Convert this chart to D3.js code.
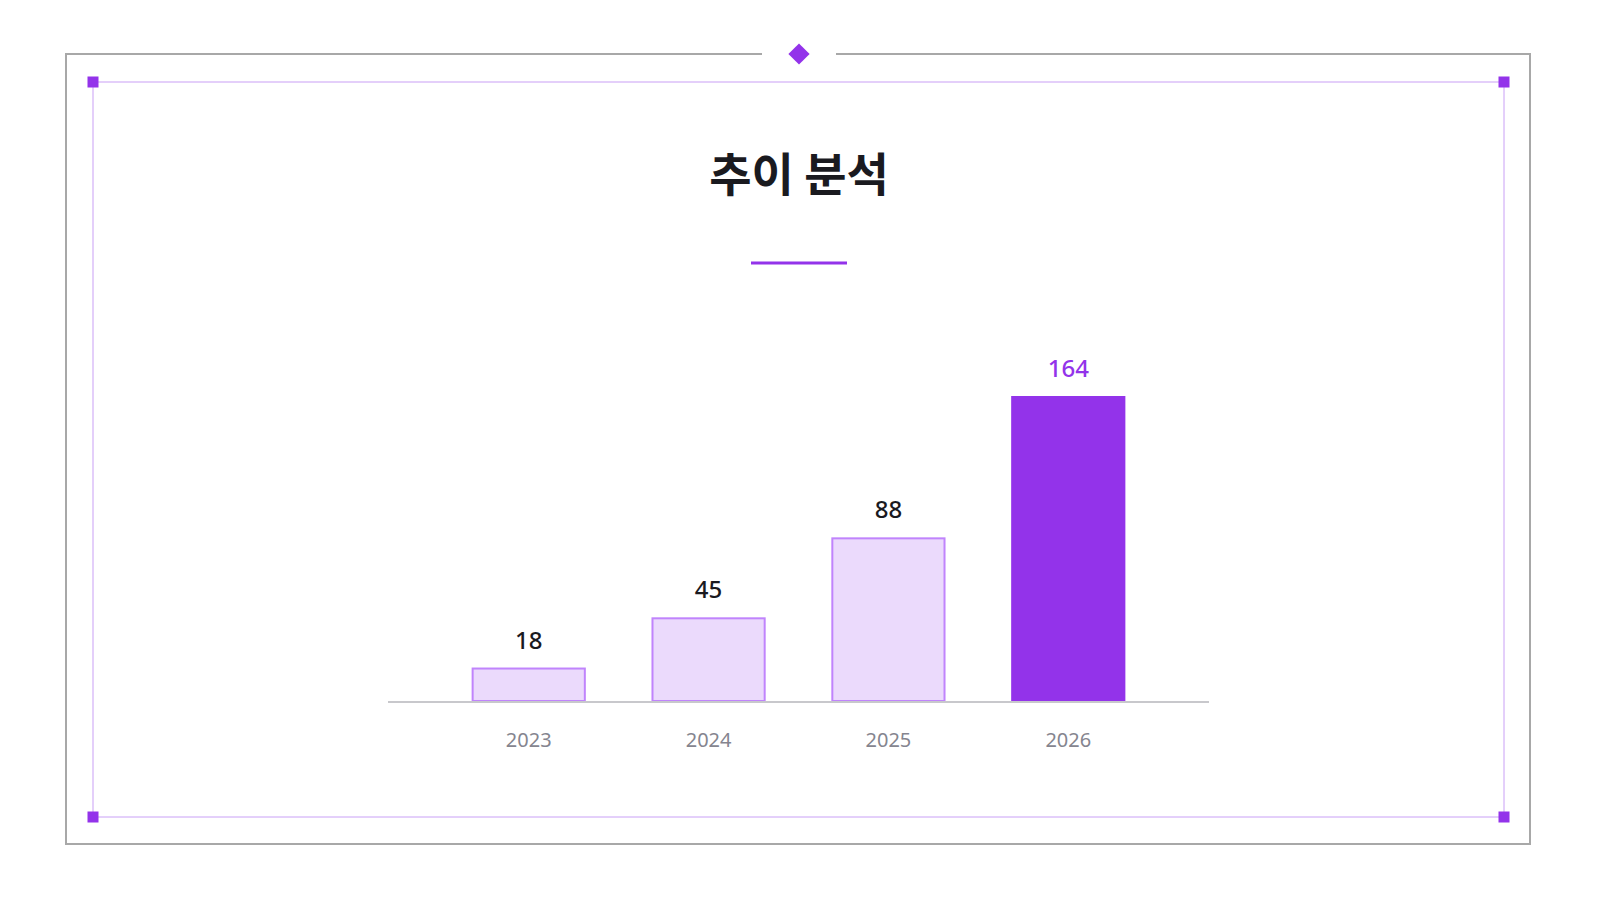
<!DOCTYPE html>
<html><head><meta charset="utf-8">
<script src="https://cdn.jsdelivr.net/npm/d3@7"></script>
<style>
html,body{margin:0;padding:0;background:#fff;}
svg{display:block;}
</style></head>
<body>
<svg id="chart" width="1598" height="900"></svg>
<script>
const title = "추이 분석";
const categories = ["2023", "2024", "2025", "2026"];
const values = [18, 45, 88, 164];
const highlight = ["2026"];

const svg = d3.select("#chart");
const purple = "#9333ea";
const fontFam = "'Noto Sans', 'Open Sans', 'Noto Sans CJK KR', sans-serif";

// outer frame
svg.append("rect").attr("x", 66).attr("y", 54).attr("width", 1464).attr("height", 790)
  .attr("fill", "none").attr("stroke", "#a8a8a8").attr("stroke-width", 2);
// gap at top for diamond
svg.append("rect").attr("x", 762).attr("y", 50).attr("width", 74).attr("height", 8).attr("fill", "#fff");
svg.append("rect").attr("x", 799 - 7.5).attr("y", 54 - 7.5).attr("width", 15).attr("height", 15)
  .attr("fill", purple).attr("transform", "rotate(45 799 54)");

// inner frame
svg.append("rect").attr("x", 93).attr("y", 82).attr("width", 1411).attr("height", 735)
  .attr("fill", "none").attr("stroke", "#c9a0f6").attr("stroke-width", 1);
[[93, 82], [1504, 82], [93, 817], [1504, 817]].forEach(([cx, cy]) => {
  svg.append("rect").attr("x", cx - 5.5).attr("y", cy - 5.5).attr("width", 11).attr("height", 11).attr("fill", purple);
});

// title
svg.append("text").attr("x", 799).attr("y", 191).attr("text-anchor", "middle")
  .attr("font-family", "'Noto Sans CJK KR', 'Noto Sans', sans-serif").attr("font-weight", 700)
  .attr("font-size", 46).attr("fill", "#1a1a1f").text(title);
svg.append("rect").attr("x", 751).attr("y", 261.5).attr("width", 96).attr("height", 3).attr("fill", purple);

// scales
const x = d3.scaleBand().domain(categories).range([388, 1209]).paddingInner(0.365).paddingOuter(0.465);
const y = d3.scaleLinear().domain([0, 164]).range([701, 396]);

const data = categories.map((c, i) => ({ cat: c, val: values[i], hi: highlight.includes(c) }));

// bars
svg.append("g").selectAll("rect").data(data).join("rect")
  .attr("x", d => x(d.cat) + (d.hi ? 0 : 1))
  .attr("y", d => y(d.val) + (d.hi ? 0 : 1))
  .attr("width", d => x.bandwidth() - (d.hi ? 0 : 2))
  .attr("height", d => y(0) - y(d.val) - (d.hi ? 0 : 1))
  .attr("fill", d => d.hi ? purple : "#ebdafc")
  .attr("stroke", d => d.hi ? "none" : "#c084fc")
  .attr("stroke-width", 2);

// axis
const axis = d3.axisBottom(x).tickSize(0).tickPadding(0);
const gAxis = svg.append("g").attr("transform", `translate(0,${y(0)})`).call(axis);
gAxis.select(".domain").remove();
gAxis.selectAll("text").attr("dy", 0).attr("y", 46)
  .attr("font-family", fontFam).attr("font-size", 20).attr("fill", "#85858f");
svg.append("line").attr("x1", 388).attr("x2", 1209).attr("y1", 702).attr("y2", 702)
  .attr("stroke", "#c8c8cc").attr("stroke-width", 2);

// value labels
svg.append("g").selectAll("text").data(data).join("text")
  .attr("x", d => x(d.cat) + x.bandwidth() / 2)
  .attr("y", d => y(d.val) - 19)
  .attr("text-anchor", "middle")
  .attr("font-family", fontFam).attr("font-size", 24)
  .attr("font-weight", 500)
  .attr("fill", d => d.hi ? purple : "#1a1a1f")
  .text(d => d.val);
</script>
</body></html>
